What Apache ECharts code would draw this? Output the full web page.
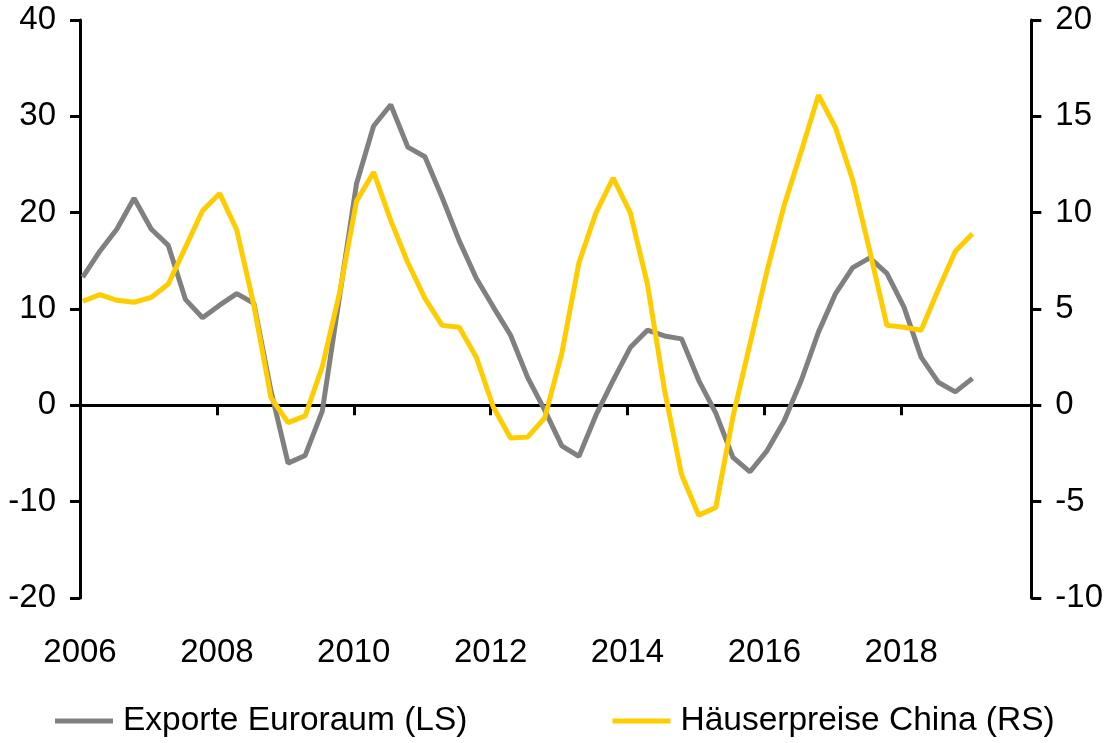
<!DOCTYPE html>
<html>
<head>
<meta charset="utf-8">
<script src="https://cdn.jsdelivr.net/npm/echarts@6/dist/echarts.min.js"></script>
<style>
  html, body { margin: 0; padding: 0; background: #fff; }
  #chart { width: 1106px; height: 743px; }
</style>
</head>
<body>
<div id="chart"></div>
<script>
// Quarterly series, 2006 Q1 .. 2019 Q1
const startYear = 2006;
const seriesNames = ['Exporte Euroraum (LS)', 'Häuserpreise China (RS)'];

// Exporte Euroraum, % y/y (left scale)
const exporteEuroraum = [
  13.3, 16.0, 18.3, 21.5, 18.3, 16.6, 11.0, 9.1, 10.4, 11.6, 10.6, 1.5,
  -6.0, -5.2, -0.6, 11.2, 23.0, 29.0, 31.2, 26.8, 25.8, 21.6, 17.1, 13.2,
  10.2, 7.3, 2.9, -0.5, -4.2, -5.3, -1.0, 2.6, 6.0, 7.8, 7.2, 6.9,
  2.6, -0.8, -5.4, -6.9, -4.7, -1.6, 2.6, 7.6, 11.6, 14.3, 15.3, 13.7,
  10.2, 5.0, 2.4, 1.4, 2.8
];

// Häuserpreise China, % y/y (right scale)
const haeuserpreiseChina = [
  5.4, 5.75, 5.45, 5.35, 5.6, 6.3, 8.2, 10.1, 11.0, 9.1, 5.2, 0.4,
  -0.9, -0.55, 2.0, 5.8, 10.6, 12.1, 9.6, 7.4, 5.55, 4.15, 4.05, 2.5,
  -0.1, -1.7, -1.65, -0.65, 2.7, 7.4, 10.0, 11.8, 10.0, 6.3, 0.8, -3.6,
  -5.7, -5.3, -0.6, 3.2, 7.0, 10.4, 13.2, 16.1, 14.4, 11.7, 8.0, 4.15,
  4.05, 3.9, 6.0, 8.0, 8.9
];

// quarter -> decimal year (mid-January of the quarter's first month)
const quarterDates = exporteEuroraum.map((_, i) => startYear + i / 4 + 0.04);

const FONT = "'Liberation Sans', Arial, sans-serif";
const GREY = '#808080';
const YELLOW = '#FFCC00';

const chart = echarts.init(document.getElementById('chart'));

const xBase = {
  type: 'value', min: 2006, max: 2019.9, interval: 2,
  splitLine: { show: false },
};

chart.setOption({
  animation: false,
  textStyle: { fontFamily: FONT },
  grid: { left: 80, right: 74, top: 20, bottom: 145 },
  legend: {
    left: 55, top: 704, padding: 0,
    itemWidth: 58, itemHeight: 5, itemGap: 145,
    icon: 'rect',
    textStyle: {
      fontFamily: FONT, fontSize: 33.5, color: '#000', lineHeight: 34,
      padding: [0, 0, 0, 5],
    },
    data: seriesNames,
  },
  xAxis: [
    Object.assign({}, xBase, {
      position: 'bottom',
      axisLine: { onZero: true, lineStyle: { color: '#000', width: 3 } },
      axisTick: { show: true, length: 10, lineStyle: { color: '#000', width: 3 } },
      axisLabel: { show: false },
    }),
    Object.assign({}, xBase, {
      position: 'bottom',
      axisLine: { show: false, onZero: false },
      axisTick: { show: false },
      axisLabel: {
        margin: 38, fontSize: 33, color: '#000', fontFamily: FONT,
        showMaxLabel: false,
        formatter: v => (v % 2 === 0 ? String(v) : ''),
      },
    }),
  ],
  yAxis: [
    {
      type: 'value', min: -20, max: 40, interval: 10, position: 'left',
      axisLine: { show: true, lineStyle: { color: '#000', width: 3 } },
      axisTick: { show: true, length: 10, lineStyle: { color: '#000', width: 3 } },
      axisLabel: { margin: 24, fontSize: 33, color: '#000', fontFamily: FONT },
      splitLine: { show: false },
    },
    {
      type: 'value', min: -10, max: 20, interval: 5, position: 'right',
      axisLine: { show: true, lineStyle: { color: '#000', width: 3 } },
      axisTick: { show: true, length: 10, lineStyle: { color: '#000', width: 3 } },
      axisLabel: { margin: 24, fontSize: 33, color: '#000', fontFamily: FONT },
      splitLine: { show: false },
    },
  ],
  series: [
    {
      name: seriesNames[0], type: 'line', xAxisIndex: 0, yAxisIndex: 0,
      symbol: 'none', color: GREY,
      lineStyle: { color: GREY, width: 5 },
      data: exporteEuroraum.map((v, i) => [quarterDates[i], v]),
    },
    {
      name: seriesNames[1], type: 'line', xAxisIndex: 0, yAxisIndex: 1,
      symbol: 'none', color: YELLOW,
      lineStyle: { color: YELLOW, width: 5 },
      data: haeuserpreiseChina.map((v, i) => [quarterDates[i], v]),
    },
  ],
});
</script>
</body>
</html>
